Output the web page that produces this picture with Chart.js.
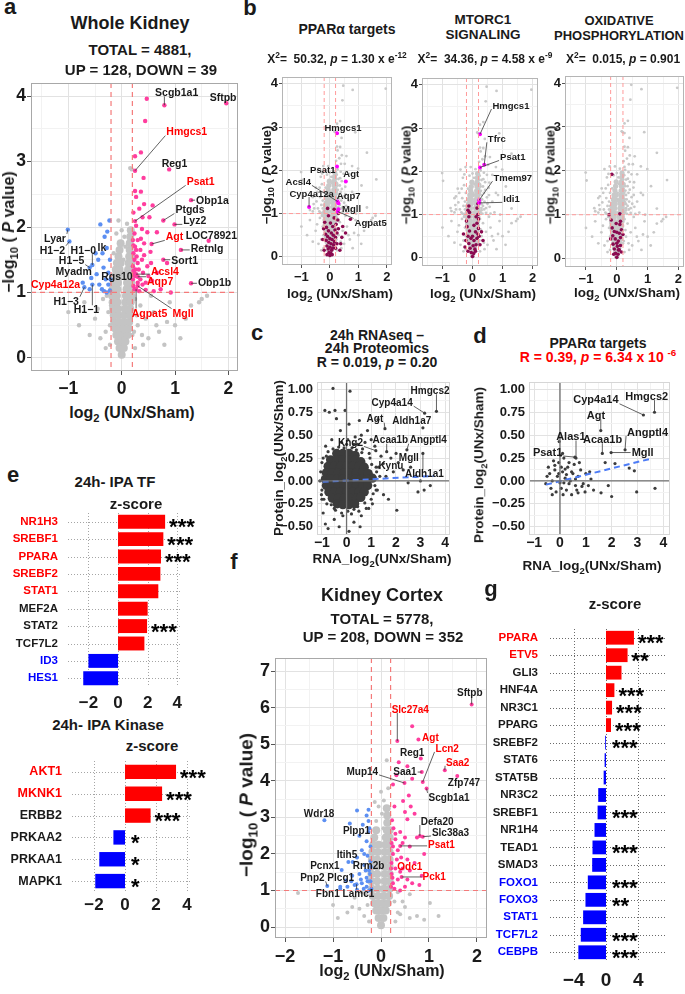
<!DOCTYPE html>
<html>
<head>
<meta charset="utf-8">
<title>UNx kidney proteomics</title>
<script src="https://cdn.jsdelivr.net/npm/chart.js@4.4.1/dist/chart.umd.min.js"></script>
<style>
  html, body { margin: 0; padding: 0; background: #fff; }
  body { position: relative; width: 685px; height: 994px; overflow: hidden;
         font-family: "Liberation Sans", Arial, sans-serif; font-weight: bold; color: #1a1a1a; }
  .t, .v { position: absolute; white-space: nowrap; line-height: 1; }
  .t { transform: translate(-50%, -50%); }
  .v { transform: translate(-50%, -50%) rotate(-90deg); }
  sub, sup { font-size: 70%; line-height: 0; }
  canvas { position: absolute; }
</style>
</head>
<body>
<script>
// ---------- panel a: whole kidney volcano  [log2 FC, -log10 P] ----------
const aGrayCore = [
  [0,0.05],[-0.04,0.15],[0.04,0.15],[-0.07,0.25],[0,0.25],[0.07,0.25],
  [-0.1,0.35],[-0.02,0.35],[0.05,0.35],[0.11,0.35],[-0.12,0.45],[-0.04,0.45],[0.04,0.45],[0.13,0.45],
  [-0.14,0.55],[-0.05,0.55],[0.04,0.55],[0.14,0.55],[-0.15,0.65],[-0.06,0.65],[0.05,0.65],[0.15,0.65],
  [-0.16,0.75],[-0.07,0.75],[0.06,0.75],[0.16,0.75],[-0.17,0.85],[-0.08,0.85],[0.07,0.85],[0.17,0.85],
  [-0.18,0.95],[-0.09,0.95],[0.08,0.95],[0.18,0.95],[-0.17,1.05],[-0.08,1.05],[0.09,1.05],[0.18,1.05],
  [-0.15,1.15],[-0.07,1.15],[0.1,1.15],[0.18,1.15],[-0.13,1.25],[-0.05,1.25],[0.11,1.25],[0.18,1.25],
  [-0.11,1.35],[-0.04,1.35],[0.12,1.35],[0.18,1.35],[-0.09,1.45],[-0.02,1.45],[0.13,1.45],[0.18,1.45],
  [-0.06,1.55],[0.14,1.55],[0.18,1.55],[-0.04,1.65],[0.15,1.65],[-0.02,1.75],[0.15,1.75],[0.16,1.85],[0.17,1.95]
];
const aGray = [
  [-0.3,0.4],[-0.25,0.7],[0.3,0.5],[0.35,0.8],[-0.4,0.3],[0.5,0.3],[-0.5,0.6],[0.6,0.7],[0.45,0.6],
  [-0.35,0.9],[0.4,0.2],[-0.22,0.2],[0.25,0.15],[0.7,0.4],[1.0,0.5],[0.9,0.85],[1.3,0.8],[1.5,0.9],
  [-0.6,0.35],[-0.8,0.5],[0.55,0.95],[1.2,0.6],[0.8,0.2],[-0.3,0.15],[0.2,0.35],[-0.22,0.5],[0.28,0.65],
  [-0.28,0.95],[0.05,1.3],[0.03,1.5],[0.07,1.7],[0.05,1.85],[-0.06,2.1],[0.1,2.05],[0.16,2.9],[0.19,2.88],
  [-0.05,1.35],[1.6,0.95],[1.45,0.85],[0.25,0.9],[-0.2,0.8],[0.23,0.4],[-0.45,0.75],[0.65,0.5],[0.85,0.55],
  [-0.7,0.85],[0.38,0.35],[1.1,0.3],[-1.0,0.7],[-0.15,1.6],[-0.1,1.9],[0.0,1.95]
];
const aUp = [
  [0.47,3.96],[0.44,3.62],[0.36,3.14],[0.25,3.08],[0.41,2.75],[0.25,2.55],[0.36,2.54],[0.27,2.46],
  [0.42,2.35],[0.58,2.33],[0.33,2.28],[0.22,2.22],[0.52,2.15],[0.27,2.02],[0.38,1.97],[0.48,1.92],
  [0.66,1.92],[0.36,1.82],[0.22,1.72],[0.54,1.62],[0.42,1.57],[0.3,1.45],[0.26,1.35],[0.48,1.4],
  [0.85,1.45],[0.66,1.3],[0.57,1.18],[0.39,1.12],[0.22,1.1],[0.73,1.05],[0.92,1.0],[0.33,1.02],
  [0.45,1.04],[0.6,1.02],[0.21,1.2],[0.23,1.3],[0.21,1.4],[0.24,1.5],[0.22,1.6],[0.25,1.7],
  [0.21,1.8],[0.24,1.9],[0.26,1.25],[0.28,1.55],[0.3,1.15],[0.24,1.05],[0.27,1.65],[0.3,1.8],
  [0.32,1.35],[0.35,1.2],[0.38,1.5],[0.35,1.65],[0.4,1.3],[0.42,1.75],[0.45,1.15],[0.5,1.25],[0.55,1.45]
];
const aDown = [
  [-0.4,2.04],[-0.23,2.1],[-0.27,1.93],[-0.32,1.85],[-0.28,1.68],[-0.36,1.6],[-0.44,1.5],[-0.34,1.38],
  [-0.25,1.3],[-0.3,1.2],[-0.25,1.12],[-0.37,1.05],[-0.42,1.12],[-0.33,1.02],[-0.22,1.03],[-0.47,1.28],
  [-0.6,1.05],[-0.22,1.5],[-0.21,1.2],[-0.28,1.0]
];
const aUpGenes = [
  ['Scgb1a1',0.80,3.86],['Sftpb',1.96,3.89],['Hmgcs1',0.25,2.86],['Reg1',0.89,2.88],['Psat1',0.25,2.09],
  ['Obp1a',1.30,2.41],['Ptgds',0.78,2.10],['Lyz2',0.99,2.04],['LOC78921',1.63,1.79],['Agt',0.56,1.74],
  ['Retnlg',1.11,1.65],['Sort1',0.78,1.50],['Acsl4',0.27,1.28],['Aqp7',0.30,1.24],['Obp1b',1.30,1.14],
  ['Agpat5',0.27,1.05],['Mgll',0.30,1.10],['Tfrc',0.39,2.15],['Tmem97',0.22,1.33],['Idi1',0.22,1.27]
];
const aDownGenes = [
  ['Lyar',-1.01,1.96],['H1-2',-0.98,1.78],['H1-0',-0.55,1.42],['Ik',-0.49,1.60],['H1-5',-0.60,1.38],
  ['Myadm',-0.57,1.22],['Cyp4a12a',-0.73,1.15],['H1-3',-0.70,1.08],['H1-1',-0.55,1.12]
];
const aXTicks = [-1, 0, 1, 2];
const aYTicks = [0, 1, 2, 3, 4];

// ---------- panel b: gene sets on the whole kidney volcano ----------
const bPparaHits = [
  [0,0.03],[0.03,0.08],[-0.03,0.1],[0.06,0.15],[-0.06,0.18],[0.1,0.2],[0,0.22],[-0.1,0.25],[0.13,0.28],
  [0.04,0.3],[-0.04,0.33],[0.16,0.35],[-0.13,0.38],[0.08,0.4],[0,0.42],[0.2,0.45],[-0.08,0.47],[0.12,0.5],
  [-0.15,0.52],[0.25,0.55],[0.05,0.55],[-0.05,0.6],[0.18,0.62],[0.3,0.65],[-0.12,0.68],[0.1,0.7],[0.22,0.75],
  [0.02,0.78],[-0.18,0.8],[0.28,0.85],[0.15,0.9],[-0.05,0.95],[0.3,1.0],[0.15,1.1],[-0.08,1.12],[0.45,0.7],
  [0.55,0.55],[-0.25,0.4],[0.72,0.87],[0.38,0.3],[-0.2,0.15],[0.35,0.15],[0.42,0.45],[0.2,0.2],[-0.1,0.05],
  [0.08,0.05],[0.25,0.3],[-0.22,0.65]
];
const bMtorHits = [
  [0,0.03],[0.04,0.1],[-0.04,0.12],[0.08,0.2],[-0.08,0.22],[0.02,0.28],[0.12,0.3],[-0.12,0.33],[0.05,0.4],
  [-0.05,0.45],[0.15,0.45],[-0.15,0.5],[0.18,0.55],[0.1,0.6],[-0.1,0.62],[0.2,0.68],[-0.18,0.72],[0.05,0.75],
  [0.15,0.8],[-0.2,0.85],[0.2,0.9],[-0.12,0.95],[0.18,1.0],[-0.1,1.05],[0.15,1.15],[-0.12,1.2],[0.18,1.25],
  [-0.15,1.1],[0.3,0.6],[-0.3,0.55],[0.25,0.3],[-0.25,0.25],[0.1,0.15],[-0.15,0.15],[0.35,0.4],[0.22,0.5],
  [-0.22,0.4],[0.0,0.5],[0.12,0.95]
];
const bOxHits = [
  [-0.16,1.92],[0,0.03],[0.04,0.1],[-0.04,0.12],[0.08,0.2],[-0.08,0.22],[0.02,0.28],[0.12,0.3],[-0.12,0.33],
  [0.05,0.4],[-0.05,0.45],[0.12,0.48],[-0.13,0.52],[0.08,0.58],[-0.08,0.62],[0.15,0.66],[-0.15,0.7],[0.1,0.78],
  [-0.02,0.8],[0.12,0.85],[-0.25,1.0],[0.1,1.02],[-0.18,0.88],[0.2,0.55],[-0.2,0.45],[0.0,0.6],[0.05,0.2],
  [-0.1,0.1],[0.15,0.15],[0.0,0.35]
];
const bXTicks = [-1, 0, 1, 2];
const bYTicks = [0, 1, 2, 3, 4];

// ---------- panel c / d: RNA vs protein  [RNA log2, protein log2] ----------
const cCore = [
  [-0.4,0.3],[-0.15,0.3],[0.1,0.3],[0.35,0.28],
  [-0.65,0.23],[-0.4,0.23],[-0.15,0.23],[0.1,0.23],[0.35,0.23],[0.58,0.21],
  [-0.75,0.16],[-0.5,0.16],[-0.25,0.16],[0,0.16],[0.25,0.16],[0.5,0.16],[0.72,0.15],
  [-0.82,0.09],[-0.6,0.09],[-0.35,0.09],[-0.1,0.09],[0.15,0.09],[0.4,0.09],[0.65,0.09],[0.88,0.08],
  [-0.86,0.02],[-0.65,0.02],[-0.4,0.02],[-0.15,0.02],[0.1,0.02],[0.35,0.02],[0.6,0.02],[0.85,0.02],[1.05,0.03],
  [-0.82,-0.05],[-0.6,-0.05],[-0.35,-0.05],[-0.1,-0.05],[0.15,-0.05],[0.4,-0.05],[0.65,-0.05],[0.86,-0.05],
  [-0.72,-0.12],[-0.5,-0.12],[-0.25,-0.12],[0,-0.12],[0.25,-0.12],[0.5,-0.12],[0.72,-0.12],
  [-0.58,-0.19],[-0.35,-0.19],[-0.1,-0.19],[0.15,-0.19],[0.4,-0.19],[0.58,-0.18],
  [-0.38,-0.25],[-0.15,-0.26],[0.1,-0.26],[0.33,-0.25]
];
const cDots = [
  [-0.55,1.01],[0.14,0.98],[-0.47,0.77],[-0.88,0.77],[-0.06,0.77],[-0.41,0.68],[-0.7,0.75],[0.52,0.66],
  [1.28,0.67],[0.1,0.62],[-0.25,0.55],[0.6,0.5],[0.85,0.55],[0.35,0.48],[-0.6,0.45],[1.0,0.45],[0.75,0.42],
  [-0.85,0.38],[1.15,0.38],[0.45,0.4],[1.4,0.27],[1.8,0.25],[2.1,0.2],[2.3,0.12],[1.9,0.1],[2.6,0.15],
  [2.8,0.05],[3.0,0.0],[3.4,-0.05],[2.5,-0.02],[1.6,0.05],[1.3,0.15],[1.2,-0.1],[1.5,-0.15],[2.04,-0.32],
  [1.7,-0.2],[2.9,-0.12],[3.15,-0.1],[-0.86,-0.47],[-0.75,-0.52],[-0.95,-0.35],[-0.5,-0.42],[0.3,-0.45],
  [0.1,-0.55],[0.6,-0.38],[-0.2,-0.35],[0.9,-0.3],[1.05,-0.25],[-1.0,-0.2],[-1.0,0.2],[0.55,-0.5],[-0.3,-0.5],
  [-0.2,0.42],[0.05,0.45],[0.3,0.4],[-0.55,0.35],[0.65,0.35],[0.95,0.25],[1.2,0.15],[1.35,0.05],[1.25,-0.1],
  [1.0,-0.2],[0.8,-0.3],[0.5,-0.33],[0.2,-0.36],[-0.15,-0.38],[-0.5,-0.3],[-0.8,-0.25],[-1.0,-0.1],
  [-1.05,0.1],[-0.95,0.25],[-0.75,0.32],[-1.08,0.0],[-1.02,-0.15],[1.22,0.1],[1.15,-0.05],[0.92,0.3],
  [-0.82,0.27],[0.62,0.31],[-0.62,-0.26],[0.74,-0.24],[0.0,0.4],[-0.32,0.37],[0.22,0.36],[0.45,-0.28],
  [-0.92,-0.2],[1.08,-0.14],[1.02,0.18],[-0.1,0.36],[0.4,0.34],[-0.45,-0.32],[0.05,-0.33],[0.3,-0.31]
];
const cGenes = [
  ['Hmgcs2',3.65,0.76],['Cyp4a14',3.17,0.74],['Agt',1.56,0.57],['Aldh1a7',3.10,0.58],['Kng2',1.19,0.33],
  ['Acaa1b',1.63,0.32],['Angptl4',2.45,0.34],['Mgll',2.01,0.30],['Kynu',1.49,0.19],['Aldh1a1',3.10,0.30]
];
const cTrend = [[-0.97,-0.01],[3.55,0.055]];
const dDots = [
  [-0.03,0.43],[2.13,0.19],[2.68,0.14],[2.88,0.11],[1.87,-0.05],[1.59,-0.13],[2.0,-0.17],[2.97,-0.12],
  [3.68,-0.08],[0.97,-0.12],[-0.5,0.05],[-0.4,0.08],[-0.3,0.0],[-0.2,0.12],[-0.1,0.05],[0.0,-0.02],[0.1,0.1],
  [0.2,0.03],[0.3,0.15],[0.4,0.0],[0.5,0.08],[0.6,-0.05],[0.7,0.05],[0.8,0.12],[0.9,-0.03],[1.0,0.08],
  [-0.35,-0.08],[-0.15,-0.12],[0.05,-0.08],[0.25,-0.1],[0.45,-0.15],[0.65,-0.1],[0.85,-0.06],[-0.45,0.15],
  [-0.05,0.2],[0.15,0.25],[0.35,0.2],[0.55,0.18],[0.75,0.2],[-0.25,0.22],[0.1,0.3],[-0.2,0.17],[0.05,0.15],
  [0.35,-0.03],[0.15,-0.02],[-0.05,0.08],[0.25,0.07],[0.45,0.1],[0.6,0.02],[0.12,-0.15],[-0.3,-0.15],
  [1.2,0.02],[1.3,-0.1],[1.15,0.1],[1.75,0.2],[0.02,0.28],[-0.55,-0.03],[0.7,-0.13],[1.1,-0.05],[0.2,0.13]
];
const dGenes = [
  ['Hmgcs2',3.66,0.75],['Cyp4a14',3.23,0.72],['Agt',1.58,0.55],['Alas1',0.62,0.25],['Acaa1b',1.64,0.30],
  ['Angptl4',2.52,0.34],['Mgll',1.98,0.31],['Psat1',0.58,0.26]
];
const dTrend = [[-0.54,-0.04],[3.48,0.24]];
const cXTicks = [-1, 0, 1, 2, 3, 4];
const cYTicks = [-0.5, -0.25, 0, 0.25, 0.5, 0.75, 1];

// ---------- panel e: IPA upstream regulators (z-score) ----------
const tfNames = ['NR1H3','SREBF1','PPARA','SREBF2','STAT1','MEF2A','STAT2','TCF7L2','ID3','HES1'];
const tfZ = [3.18, 3.06, 2.9, 2.86, 2.72, 2.0, 1.96, 1.78, -2.0, -2.35];
const tfStars = ['***','***','***','','','','***','','',''];
const kinNames = ['AKT1','MKNK1','ERBB2','PRKAA2','PRKAA1','MAPK1'];
const kinZ = [3.29, 2.39, 1.65, -0.75, -1.66, -1.92];
const kinStars = ['***','***','***','*','*','*'];
const eTicks = [-2, 0, 2, 4];

// ---------- panel f: kidney cortex volcano ----------
const fGrayCore = [
  [0,0.05],[-0.05,0.25],[0.05,0.25],[-0.1,0.45],[0,0.45],[0.1,0.45],
  [-0.14,0.65],[-0.05,0.65],[0.05,0.65],[0.14,0.65],[-0.17,0.85],[-0.06,0.85],[0.06,0.85],[0.17,0.85],
  [-0.19,1.05],[-0.07,1.05],[0.07,1.05],[0.18,1.05],[-0.2,1.25],[-0.08,1.25],[0.08,1.25],[0.18,1.25],
  [-0.2,1.45],[-0.08,1.45],[0.08,1.45],[0.18,1.45],[-0.2,1.65],[-0.08,1.65],[0.08,1.65],[0.18,1.65],
  [-0.19,1.85],[-0.08,1.85],[0.08,1.85],[0.18,1.85],[-0.18,2.05],[-0.07,2.05],[0.08,2.05],[0.18,2.05],
  [-0.16,2.25],[-0.05,2.25],[0.09,2.25],[0.18,2.25],[-0.14,2.45],[0.1,2.45],[0.18,2.45],
  [-0.1,2.65],[0.12,2.65],[0.18,2.65],[0.13,2.85],[0.13,3.05],[0.12,3.25]
];
const fGray = [
  [-0.13,3.42],[0.06,3.46],[0.12,4.56],[0.0,3.7],[-0.05,3.3],[0.02,3.1],[-0.35,0.3],[-0.45,0.5],[0.35,0.4],
  [0.45,0.7],[-0.55,0.8],[0.6,0.9],[-0.7,0.4],[0.75,0.3],[1.02,0.66],[-1.73,0.93],[0.6,0.25],[0.3,0.15],
  [-0.25,0.15],[-0.3,0.9],[0.28,0.7],[-0.28,0.6],[0.4,0.35],[0.9,0.2],[-0.9,0.25],[0.15,3.8],[-0.1,2.9],
  [0.05,2.7],[-0.6,0.55],[0.5,0.55],[-0.4,0.95],[0.35,0.95],[-1.0,0.6],[1.2,0.3]
];
const fUp = [
  [0.65,5.49],[0.37,4.51],[0.32,4.15],[0.65,4.06],[0.55,4.4],[0.25,3.9],[0.58,3.6],[0.62,3.3],[0.5,3.15],
  [0.55,2.95],[0.23,2.92],[0.26,2.7],[0.3,2.55],[0.4,2.6],[0.5,2.45],[0.45,2.3],[0.6,2.2],[0.35,2.1],
  [0.25,2.0],[0.42,1.9],[0.55,1.85],[0.7,1.75],[0.22,1.75],[0.3,1.6],[0.22,1.45],[0.35,1.3],[0.25,1.2],
  [0.5,1.1],[0.65,1.2],[0.8,1.15],[0.28,1.05],[0.4,1.0],[0.75,2.45],[0.9,2.0],[0.22,2.3],[0.3,2.4],
  [0.25,2.2],[0.21,1.6],[0.24,1.35],[0.21,1.1],[0.85,1.4],[0.6,1.55],[0.7,3.1],[0.46,3.45],[0.28,3.3],
  [0.33,1.85],[0.45,1.6],[0.55,1.3]
];
const fDown = [
  [-0.5,3.19],[-0.26,3.21],[-0.3,3.05],[-0.38,2.8],[-0.26,2.6],[-0.45,2.5],[-0.3,2.35],[-0.22,2.2],
  [-0.4,2.1],[-0.28,1.95],[-0.5,1.9],[-0.22,1.8],[-0.35,1.7],[-0.25,1.55],[-0.45,1.45],[-0.6,1.4],
  [-0.3,1.35],[-0.22,1.25],[-0.4,1.2],[-0.55,1.15],[-0.7,1.1],[-0.3,1.1],[-0.25,1.0],[-0.5,1.02],
  [-0.85,1.05],[-0.23,1.45],[-0.35,2.0],[-0.24,2.7],[-0.21,1.65],[-0.28,1.25],[-0.32,1.55],[-0.42,1.3],
  [-0.62,1.25],[-0.2,1.05],[-0.36,1.05],[-0.26,2.9]
];
const fUpGenes = [
  ['Sftpb',1.89,6.09],['Slc27a4',0.34,5.09],['Agt',0.78,5.13],['Reg1',0.83,4.61],['Lcn2',0.87,3.97],
  ['Saa2',1.33,4.29],['Saa1',0.85,4.24],['Mup14',0.49,3.94],['Zfp747',1.59,4.13],['Scgb1a1',0.95,3.79],
  ['Defa20',0.81,2.49],['Slc38a3',0.87,2.47],['Psat1',0.40,2.22],['Odc1',0.40,1.51],['Pck1',0.43,1.37]
];
const fDownGenes = [
  ['Wdr18',-1.18,2.92],['Plpp1',-0.65,2.83],['Itih5',-0.68,1.78],['Pcnx1',-0.82,1.56],['Rrm2b',-0.59,1.78],
  ['Pnp2',-1.12,1.12],['Plcg1',-0.73,1.27],['Fbn1',-0.85,1.10],['Lamc1',-0.51,1.17]
];
const fXTicks = [-2, -1, 0, 1, 2];
const fYTicks = [0, 1, 2, 3, 4, 5, 6, 7];

// ---------- panel g: cortex IPA upstream regulators ----------
const gNames = ['PPARA','ETV5','GLI3','HNF4A','NR3C1','PPARG','SREBF2','STAT6','STAT5B','NR3C2',
                'SREBF1','NR1H4','TEAD1','SMAD3','FOXO1','FOXO3','STAT1','TCF7L2','CEBPB'];
const gZ = [3.46, 2.67, 1.92, 1.04, 0.75, 0.62, -0.1, -0.17, -0.29, -0.96,
            -1.04, -1.42, -1.67, -1.71, -2.25, -2.54, -2.83, -3.12, -3.42];
const gStars = ['***','**','','***','***','***','***','','','','***','','***','','***','**','','***','***'];
const gTicks = [-4, 0, 4];

// ---------- styling / layout ----------
const RED = '#ff0000', BLUE = '#0000ff', INK = '#1a1a1a';
const PINK = '#ff3d9e', CORN = '#5c8ff2', GREY = '#c4c4c4';
const FONT = '"Liberation Sans", Arial, sans-serif';

const aRed = ['Hmgcs1','Psat1','Agt','Acsl4','Aqp7','Agpat5','Mgll','Cyp4a12a'];
const aLabelAt = {
  Scgb1a1:[1.03,4.06], Sftpb:[1.9,3.99], Hmgcs1:[1.22,3.46], Reg1:[0.99,2.97], Psat1:[1.48,2.7],
  Obp1a:[1.7,2.41], Ptgds:[1.28,2.27], Lyz2:[1.37,2.1], LOC78921:[1.68,1.88], Agt:[0.99,1.86],
  Retnlg:[1.6,1.67], Sort1:[1.18,1.49], Acsl4:[0.81,1.33], Aqp7:[0.72,1.18], Obp1b:[1.74,1.16],
  Agpat5:[0.52,0.69], Mgll:[1.15,0.69], Lyar:[-1.25,1.83], 'H1-2':[-1.3,1.65], 'H1-0':[-0.72,1.65],
  Ik:[-0.37,1.69], 'H1-5':[-0.94,1.49], Myadm:[-0.9,1.33], Cyp4a12a:[-1.24,1.13], 'H1-3':[-1.04,0.87],
  'H1-1':[-0.66,0.74], Rgs10:[-0.09,1.25]
};
const bPparaLabelAt = { Hmgcs1:[0.46,3.0], Psat1:[-0.25,2.03], Agt:[0.75,1.92], Acsl4:[-1.11,1.74],
  Cyp4a12a:[-0.64,1.47], Aqp7:[0.66,1.42], Mgll:[0.76,1.11], Agpat5:[1.43,0.8] };
const bMtorLabelAt = { Hmgcs1:[1.28,3.53], Tfrc:[0.81,2.76], Psat1:[1.34,2.34], Tmem97:[1.34,1.86], Idi1:[1.3,1.37] };
const cLabelAt = { Hmgcs2:[3.39,0.99], Cyp4a14:[1.85,0.86], Agt:[1.15,0.68], Aldh1a7:[2.65,0.66],
  Acaa1b:[1.78,0.45], Angptl4:[3.32,0.45], Kng2:[0.16,0.42], Mgll:[2.53,0.26], Kynu:[1.8,0.17], Aldh1a1:[3.16,0.08] };
const dLabelAt = { Hmgcs2:[3.36,0.93], Cyp4a14:[1.39,0.89], Agt:[1.39,0.72], Alas1:[0.42,0.49],
  Acaa1b:[1.65,0.46], Angptl4:[3.39,0.54], Mgll:[3.2,0.32], Psat1:[-0.48,0.32] };
const fRed = ['Slc27a4','Agt','Lcn2','Saa2','Psat1','Odc1','Pck1'];
const fLabelAt = {
  Sftpb:[1.85,6.42], Slc27a4:[0.61,5.97], Agt:[1.03,5.2], Reg1:[0.65,4.79], Lcn2:[1.38,4.9], Saa2:[1.6,4.52],
  Saa1:[0.5,4.27], Mup14:[-0.39,4.27], Zfp747:[1.73,3.97], Scgb1a1:[1.42,3.56], Wdr18:[-1.29,3.1],
  Plpp1:[-0.51,2.65], Defa20:[1.17,2.9], Slc38a3:[1.45,2.6], Psat1:[1.26,2.26], Itih5:[-0.71,1.99],
  Pcnx1:[-1.17,1.68], Rrm2b:[-0.26,1.68], Odc1:[0.6,1.67], Pck1:[1.11,1.39], Pnp2:[-1.43,1.36],
  Plcg1:[-0.84,1.36], Fbn1:[-1.11,0.92], Lamc1:[-0.47,0.92]
};
const tfColors = [RED, RED, RED, RED, RED, INK, INK, INK, BLUE, BLUE];
const kinColors = [RED, RED, INK, INK, INK, INK];
const gColors = [RED, RED, INK, INK, INK, INK, INK, INK, INK, INK, INK, INK, INK, INK, BLUE, BLUE, BLUE, BLUE, BLUE];

Chart.defaults.font.family = FONT;
Chart.defaults.font.weight = 'bold';
Chart.defaults.color = INK;
Chart.defaults.animation = false;
Chart.defaults.events = [];
Chart.defaults.plugins.legend.display = false;
Chart.defaults.plugins.tooltip.enabled = false;

const minus = v => String(v).replace('-', '\u2212');
const two = v => v.toFixed(2).replace('-', '\u2212');

function text(html, x, y, size, opt) {
  const d = document.createElement('div');
  d.className = opt && opt.rot ? 'v' : 't';
  d.style.left = x + 'px';
  d.style.top = y + 'px';
  d.style.fontSize = size + 'px';
  if (opt && opt.color) d.style.color = opt.color;
  d.innerHTML = html;
  document.body.appendChild(d);
}

function canvasAt(area, yw, pt, pr, xh) {
  const c = document.createElement('canvas');
  const w = yw + area.r - area.l + pr, h = pt + area.b - area.t + xh;
  c.width = w; c.height = h;
  c.style.left = (area.l - yw) + 'px';
  c.style.top = (area.t - pt) + 'px';
  c.style.width = w + 'px';
  c.style.height = h + 'px';
  document.body.appendChild(c);
  return c;
}

// gridline positions halfway between the labelled ticks
function halfSteps(major, range) {
  const step = major[1] - major[0];
  const all = [major[0] - step].concat(major, [major[major.length - 1] + step]);
  const out = [];
  for (let i = 0; i < all.length - 1; i++) {
    const m = (all[i] + all[i + 1]) / 2;
    if (m > range[0] && m < range[1]) out.push(m);
  }
  return out;
}

function linAxis(range, major, o) {
  const minor = o.minor ? halfSteps(major, range) : [];
  const isMajor = v => major.indexOf(v) >= 0;
  const all = major.concat(minor).sort((p, q) => p - q);
  return {
    type: 'linear', min: range[0], max: range[1],
    afterBuildTicks: s => { s.ticks = all.map(v => ({ value: v })); },
    afterFit: s => {
      if (o.w) s.width = o.w;
      if (o.h) s.height = o.h;
      s.paddingTop = 0; s.paddingBottom = 0; s.paddingLeft = 0; s.paddingRight = 0;
    },
    ticks: {
      autoSkip: false, maxRotation: 0, minRotation: 0, padding: o.pad || 0, color: INK,
      font: { size: o.fs, weight: 'bold', family: FONT },
      callback: v => isMajor(v) ? (o.fmt || minus)(v) : ''
    },
    grid: {
      display: !!o.grid,
      color: c => (c.tick && isMajor(c.tick.value)) ? '#e2e2e2' : '#f2f2f2',
      lineWidth: 1,
      drawTicks: !!o.tl, tickLength: o.tl || 0,
      tickColor: c => (c.tick && isMajor(c.tick.value)) ? '#555' : 'rgba(0,0,0,0)'
    },
    border: { display: false }
  };
}

const dots = (pts, color, r) => ({ data: pts.map(p => ({ x: p[0], y: p[1] })), backgroundColor: color,
  borderWidth: 0, pointRadius: r, pointHoverRadius: r });
const genePts = (list, color, r) => ({ data: list.map(g => ({ x: g[1], y: g[2] })), backgroundColor: color,
  borderWidth: 0, pointRadius: r, pointHoverRadius: r });
const trend = seg => ({ data: seg.map(p => ({ x: p[0], y: p[1] })), showLine: true, borderColor: '#4d7cf6',
  borderWidth: 2, borderDash: [6, 4], pointRadius: 0, backgroundColor: 'transparent' });

function labelList(pool, at, reds) {
  return Object.keys(at).map(name => {
    const g = pool.find(q => q[0] === name);
    const p = g ? [g[1], g[2]] : at[name];
    return { t: name.replace('-', '\u2212'), lx: at[name][0], ly: at[name][1], px: p[0], py: p[1],
             c: reds.indexOf(name) >= 0 ? RED : INK };
  });
}

function decoPlugin(d) {
  return {
    id: 'deco',
    beforeDatasetsDraw(chart) {
      if (!d.barGrid) return;
      const { ctx, chartArea: A, scales: { x, y } } = chart;
      ctx.save();
      ctx.strokeStyle = d.barGrid;
      ctx.lineWidth = 1;
      ctx.setLineDash([1, 2]);
      ctx.beginPath();
      y.ticks.forEach((t, i) => {
        const py = Math.round(y.getPixelForTick(i)) + 0.5;
        ctx.moveTo(A.left, py); ctx.lineTo(A.right, py);
      });
      d.xGrid.forEach(v => {
        const px = Math.round(x.getPixelForValue(v)) + 0.5;
        ctx.moveTo(px, A.top); ctx.lineTo(px, A.bottom);
      });
      ctx.stroke();
      ctx.restore();
    },
    afterDatasetsDraw(chart) {
      const { ctx, chartArea: A, scales: { x, y } } = chart;
      ctx.save();
      if (d.ref) {
        const r = d.ref;
        ctx.strokeStyle = r.color; ctx.lineWidth = r.width; ctx.setLineDash(r.dash || []);
        ctx.beginPath();
        (r.xs || []).forEach(v => { const px = x.getPixelForValue(v); ctx.moveTo(px, A.top); ctx.lineTo(px, A.bottom); });
        (r.ys || []).forEach(v => { const py = y.getPixelForValue(v); ctx.moveTo(A.left, py); ctx.lineTo(A.right, py); });
        ctx.stroke();
        ctx.setLineDash([]);
      }
      if (d.box) {
        ctx.strokeStyle = d.box; ctx.lineWidth = 1;
        ctx.strokeRect(Math.round(A.left) + 0.5, Math.round(A.top) + 0.5, Math.round(A.width) - 1, Math.round(A.height) - 1);
      }
      if (d.labels) {
        ctx.font = 'bold ' + d.lf + 'px ' + FONT;
        ctx.textAlign = 'center';
        ctx.textBaseline = 'middle';
        d.labels.forEach(L => {
          const tx = x.getPixelForValue(L.lx), ty = y.getPixelForValue(L.ly);
          const px = x.getPixelForValue(L.px), py = y.getPixelForValue(L.py);
          const w = ctx.measureText(L.t).width, h = d.lf * 0.8;
          const bx = Math.max(tx - w / 2 - 1, Math.min(px, tx + w / 2 + 1));
          const by = Math.max(ty - h / 2, Math.min(py, ty + h / 2));
          if (Math.hypot(px - bx, py - by) > 4) {
            ctx.strokeStyle = '#3a3a3a'; ctx.lineWidth = 0.8;
            ctx.beginPath(); ctx.moveTo(bx, by); ctx.lineTo(px, py); ctx.stroke();
          }
          ctx.fillStyle = L.c;
          ctx.fillText(L.t, tx, ty + 1);
        });
      }
      if (d.stars) {
        ctx.font = 'bold ' + d.ss + 'px ' + FONT;
        ctx.textAlign = 'left';
        ctx.textBaseline = 'alphabetic';
        ctx.fillStyle = '#000';
        d.stars.forEach((s, i) => {
          if (!s) return;
          const v = d.values[i];
          const px = x.getPixelForValue(Math.max(v, 0)) + (v > 0 ? 4 : 6);
          ctx.fillText(s, px, y.getPixelForTick(i) + 0.58 * d.ss);
        });
      }
      ctx.restore();
    }
  };
}

function scatterPanel(area, ax, datasets, deco) {
  const cv = canvasAt(area, ax.yw, ax.pt, ax.pr, ax.xh);
  return new Chart(cv, {
    type: 'scatter',
    data: { datasets },
    options: {
      responsive: false, animation: false, events: [],
      layout: { padding: { top: ax.pt, right: ax.pr, left: 0, bottom: 0 } },
      scales: {
        x: linAxis(ax.xr, ax.xt, { h: ax.xh, fs: ax.xfs, pad: ax.xpad, tl: ax.tl, grid: true, minor: true }),
        y: linAxis(ax.yr, ax.yt, { w: ax.yw, fs: ax.yfs, pad: ax.ypad, tl: ax.tl, grid: true, minor: true, fmt: ax.yfmt })
      },
      plugins: { legend: { display: false }, tooltip: { enabled: false } }
    },
    plugins: [decoPlugin(deco)]
  });
}

function barPanel(area, o) {
  const cv = canvasAt(area, o.yw, o.pt, o.pr, o.xh);
  return new Chart(cv, {
    type: 'bar',
    data: {
      labels: o.names,
      datasets: [{ data: o.values, backgroundColor: o.values.map(v => v > 0 ? RED : BLUE),
                   borderWidth: 0, barPercentage: o.bp, categoryPercentage: 1 }]
    },
    options: {
      indexAxis: 'y', responsive: false, animation: false, events: [],
      layout: { padding: { top: o.pt, right: o.pr, left: 0, bottom: 0 } },
      scales: {
        x: linAxis(o.xr, o.xt, { h: o.xh, fs: o.fs, pad: o.pad, tl: 0, grid: false }),
        y: {
          type: 'category', offset: true,
          grid: { display: false }, border: { display: false },
          ticks: { autoSkip: false, padding: o.lpad, font: { size: o.lfs, weight: 'bold', family: FONT },
                   color: c => o.colors[c.index] },
          afterFit: s => { s.width = o.yw; s.paddingTop = 0; s.paddingBottom = 0; }
        }
      },
      plugins: { legend: { display: false }, tooltip: { enabled: false } }
    },
    plugins: [decoPlugin({ barGrid: o.gridColor, xGrid: o.xt, stars: o.stars, values: o.values, ss: o.ss })]
  });
}

// ---------- a ----------
const aAllGenes = aUpGenes.concat(aDownGenes);
scatterPanel({ l: 31, r: 238, t: 83, b: 371 },
  { yw: 31, pt: 6, pr: 6, xh: 30, xr: [-1.7, 2.18], yr: [-0.2, 4.2], xt: aXTicks, yt: aYTicks,
    xfs: 17.5, yfs: 17.5, tl: 4, xpad: 4, ypad: 1 },
  [genePts(aUpGenes, PINK, 2.2), genePts(aDownGenes, CORN, 2.2), dots(aUp, PINK, 2.2), dots(aDown, CORN, 2.2),
   dots(aGray, GREY, 2.2), dots(aGrayCore, GREY, 4)],
  { ref: { color: '#f47a7a', width: 1.2, dash: [5, 4], xs: [-0.2, 0.2], ys: [1] }, box: '#a8a8a8',
    labels: labelList(aAllGenes, aLabelAt, aRed), lf: 10.5 });

// ---------- b ----------
const bBack = [dots(aUp.concat(aDown, aGray, aAllGenes.map(g => [g[1], g[2]])), '#c9c9c9', 1.4), dots(aGrayCore, '#c9c9c9', 2.6)];
const bAxis = { yw: 14, pt: 8, pr: 4, xh: 24, xr: [-1.68, 2.18], yr: [-0.19, 4.16], xt: bXTicks, yt: bYTicks,
  xfs: 13, yfs: 13, tl: 3, xpad: 2, ypad: 1 };
const bRef = { color: '#ff9a9a', width: 1, dash: [4, 3], xs: [-0.2, 0.2], ys: [1] };
const pick = names => aAllGenes.filter(g => names.indexOf(g[0]) >= 0);
scatterPanel({ l: 282, r: 392, t: 77, b: 265 }, bAxis,
  [genePts(pick(Object.keys(bPparaLabelAt)), '#ff00ff', 2), dots(bPparaHits, '#8b0a50', 1.8)].concat(bBack),
  { ref: bRef, box: '#b5b5b5', labels: labelList(aAllGenes, bPparaLabelAt, []), lf: 9.5 });
scatterPanel({ l: 422, r: 538, t: 78, b: 266 }, bAxis,
  [genePts(pick(Object.keys(bMtorLabelAt)), '#ff00ff', 2), dots(bMtorHits, '#8b0a50', 1.8)].concat(bBack),
  { ref: bRef, box: '#b5b5b5', labels: labelList(aAllGenes, bMtorLabelAt, []), lf: 9.5 });
scatterPanel({ l: 565, r: 684, t: 76, b: 267 }, bAxis,
  [dots(bOxHits, '#8b0a50', 1.8)].concat(bBack),
  { ref: bRef, box: '#b5b5b5' });

// ---------- c, d ----------
const cdAxis = { yw: 40, pt: 8, pr: 6, xh: 22, xr: [-1.2, 4.2], yr: [-0.59, 1.08], xt: cXTicks, yt: cYTicks,
  xfs: 14, yfs: 13, tl: 0, xpad: 0, ypad: 4, yfmt: two };
const cdRef = { color: '#707070', width: 1.3, xs: [0], ys: [0] };
scatterPanel({ l: 317, r: 450, t: 382, b: 535 }, cdAxis,
  [trend(cTrend), genePts(cGenes, '#3c3c3c', 1.6), dots(cDots, '#3c3c3c', 1.6), dots(cCore, '#3c3c3c', 4.6)],
  { ref: cdRef, box: '#d6d6d6', labels: labelList(cGenes, cLabelAt, []), lf: 10 });
scatterPanel({ l: 529, r: 670, t: 382, b: 535 }, Object.assign({}, cdAxis, { xr: [-1.2, 4.26] }),
  [trend(dTrend), genePts(dGenes, '#3c3c3c', 1.6), dots(dDots, '#3c3c3c', 1.6)],
  { ref: cdRef, box: '#d6d6d6', labels: labelList(dGenes, dLabelAt, []), lf: 11 });

// ---------- e ----------
barPanel({ l: 68, r: 182, t: 513, b: 687 },
  { names: tfNames, values: tfZ, stars: tfStars, colors: tfColors, xr: [-3.38, 4.32], xt: eTicks,
    yw: 68, pt: 8, pr: 36, xh: 28, fs: 17, pad: 6, lfs: 11.5, lpad: 2, bp: 0.8, ss: 22, gridColor: '#a5a5a5' });
barPanel({ l: 72, r: 190, t: 761, b: 892 },
  { names: kinNames, values: kinZ, stars: kinStars, colors: kinColors, xr: [-3.42, 4.19], xt: eTicks,
    yw: 72, pt: 6, pr: 36, xh: 26, fs: 17, pad: 3, lfs: 12.5, lpad: 2, bp: 0.66, ss: 22, gridColor: '#a5a5a5' });

// ---------- f ----------
const fAllGenes = fUpGenes.concat(fDownGenes);
scatterPanel({ l: 275, r: 487, t: 658, b: 938 },
  { yw: 25, pt: 8, pr: 8, xh: 30, xr: [-2.21, 2.21], yr: [-0.3, 7.36], xt: fXTicks, yt: fYTicks,
    xfs: 18, yfs: 18, tl: 4, xpad: 4, ypad: 1 },
  [genePts(fUpGenes, PINK, 2), genePts(fDownGenes, CORN, 2), dots(fUp, PINK, 2), dots(fDown, CORN, 2),
   dots(fGray, GREY, 2), dots(fGrayCore, GREY, 4)],
  { ref: { color: '#f47a7a', width: 1.2, dash: [5, 4], xs: [-0.2, 0.2], ys: [1] }, box: '#a8a8a8',
    labels: labelList(fAllGenes, fLabelAt, fRed), lf: 10 });

// ---------- g ----------
barPanel({ l: 550, r: 667, t: 629, b: 961 },
  { names: gNames, values: gZ, stars: gStars, colors: gColors, xr: [-6.93, 7.55], xt: gTicks,
    yw: 80, pt: 8, pr: 8, xh: 33, fs: 19, pad: 8, lfs: 11.5, lpad: 4, bp: 0.79, ss: 22, gridColor: '#6a6a6a' });

// ---------- text ----------
const YT = '\u2212log<sub>10</sub> ( <i>P</i> value)';
const XT = 'log<sub>2</sub> (UNx/Sham)';
text('a', 10, 7, 22); text('b', 250, 8, 22); text('c', 257, 333, 22); text('d', 480, 336, 22);
text('e', 13, 475, 22); text('f', 234, 562, 22); text('g', 491, 589, 22);

text('Whole Kidney', 130, 23, 18);
text('TOTAL = 4881,', 140, 49, 15);
text('UP = 128, DOWN = 39', 141, 69, 15);
text(YT, 9, 232, 16, { rot: true });
text(XT, 132, 413, 16);

text('PPAR\u03b1 targets', 347, 29, 14);
text('MTORC1', 483, 20, 13.5); text('SIGNALING', 483, 35, 13.5);
text('OXIDATIVE', 619, 20, 13); text('PHOSPHORYLATION', 619, 35, 13);
text('X<sup>2</sup>=&nbsp; 50.32, <i>p</i> = 1.30 x e<sup>-12</sup>', 337, 59, 12);
text('X<sup>2</sup>=&nbsp; 34.36, <i>p</i> = 4.58 x e<sup>-9</sup>', 485, 59, 12);
text('X<sup>2</sup>=&nbsp; 0.015, <i>p</i> = 0.901', 623, 59, 12);
[266, 406, 550].forEach(x => text(YT, x, 175, 13, { rot: true }));
[[340, 294], [483, 294], [627, 293]].forEach(p => text(XT, p[0], p[1], 13.5));

text('24h RNAseq \u2013', 377, 335, 14);
text('24h Proteomics', 377, 348, 14);
text('R = 0.019, <i>p</i> = 0.20', 377, 362, 14);
text('Protein_log<sub>2</sub>(UNx/Sham)', 279, 458, 13.5, { rot: true });
text('RNA_log<sub>2</sub>(UNx/Sham)', 382, 559, 13.5);

text('PPAR\u03b1 targets', 598, 343, 14);
text('R = 0.39, <i>p</i> = 6.34 x 10 <sup>-6</sup>', 598, 357, 14, { color: RED });
text('Protein_log<sub>2</sub>(UNx/Sham)', 479, 465, 13.5, { rot: true });
text('RNA_log<sub>2</sub>(UNx/Sham)', 592, 566, 13.5);

text('24h- IPA TF', 115, 481, 15);
text('z-score', 136, 503, 15);
text('24h- IPA Kinase', 108, 724, 15);
text('z-score', 152, 745, 15);

text('Kidney Cortex', 382, 595, 18);
text('TOTAL = 5778,', 382, 618, 15);
text('UP = 208, DOWN = 352', 383, 636, 15);
text(YT, 246, 805, 19, { rot: true });
text(XT, 382, 971, 16);

text('z-score', 615, 603, 15);
</script>
</body>
</html>
